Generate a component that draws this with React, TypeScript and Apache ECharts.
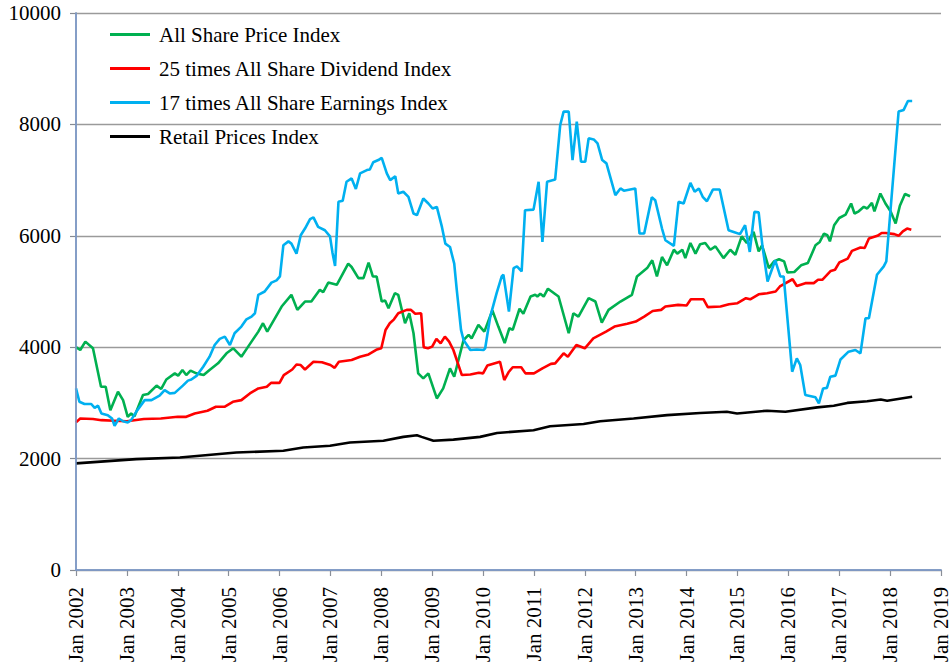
import { useEffect, useRef } from "react";
import * as echarts from "echarts";

const FONT = "Liberation Serif";

// x values: months since Jan 2002
const START_YEAR = 2002;
const X_MIN = 0;
const X_MAX = 204; // Jan 2019
const X_STEP = 12;
const Y_MIN = 0;
const Y_MAX = 10000;
const Y_STEP = 2000;

const SERIES_NAMES = [
  "All Share Price Index",
  "25 times All Share Dividend Index",
  "17 times All Share Earnings Index",
  "Retail Prices Index",
];

const SERIES_COLORS = ["#00b050", "#ff0000", "#00b0f0", "#000000"];

const priceIndex: [number, number][] = [
  [0, 4000], [1, 3950], [2.2, 4100], [4, 3980], [5.9, 3290], [7, 3290], [8.1, 2870], [9.9, 3200],
  [11.1, 3050], [12.2, 2750], [13, 2810], [13.8, 2760], [15.8, 3140], [17, 3160], [19, 3310],
  [20.1, 3250], [21.3, 3420], [23.3, 3530], [24.1, 3490], [25.1, 3590], [26, 3500], [27, 3580],
  [28.4, 3530], [30.1, 3500], [31.5, 3590], [33.5, 3710], [35.5, 3890], [37.1, 3980], [39, 3830],
  [40.6, 4010], [43, 4280], [44.1, 4430], [45.1, 4280], [48.5, 4730], [50.8, 4940], [52.2, 4670],
  [54, 4820], [55.5, 4820], [57.5, 5030], [58.3, 4990], [59.5, 5160], [61.5, 5120], [64.2, 5500],
  [65, 5440], [66.6, 5240], [67.8, 5240], [69, 5520], [70, 5270], [70.9, 5270], [72.1, 4820],
  [72.9, 4840], [73.7, 4700], [75.2, 4970], [76, 4940], [77.6, 4430], [78.6, 4610], [79.6, 4250],
  [80.7, 3530], [81.9, 3440], [83.1, 3530], [85.1, 3080], [86.6, 3260], [88.2, 3620], [89.2, 3470],
  [91.4, 4130], [92.6, 4220], [93.3, 4160], [94.9, 4400], [96.3, 4280], [98.2, 4660], [99.6, 4370],
  [101.1, 4075], [102.2, 4340], [103, 4310], [104.6, 4690], [105.5, 4600], [107.2, 4910],
  [108.3, 4940], [108.8, 4910], [109.5, 4960], [110.3, 4910], [111.3, 5050], [113.8, 4910],
  [116.2, 4250], [117.3, 4610], [118.5, 4550], [120.9, 4880], [122.5, 4820], [124, 4440],
  [125.6, 4670], [128.4, 4820], [131.1, 4940], [132.3, 5270], [134.7, 5420], [135.9, 5560],
  [137, 5270], [138.2, 5620], [139.4, 5470], [141, 5750], [141.8, 5680], [143, 5750], [143.7, 5600],
  [144.9, 5870], [146.1, 5680], [147.2, 5850], [148.4, 5870], [149.6, 5750], [150.8, 5810],
  [152.7, 5600], [154.3, 5750], [155.5, 5660], [157, 5990], [158.2, 5870], [159.8, 6070],
  [161, 5720], [161.8, 5830], [163.4, 5420], [164.6, 5540], [165.8, 5580], [167, 5540],
  [167.8, 5340], [169.4, 5350], [171, 5470], [172.6, 5510], [174.4, 5830], [175.4, 5890],
  [176.4, 6040], [177.2, 6010], [177.8, 5900], [178.8, 6190], [180, 6320], [181.5, 6380],
  [182.8, 6580], [183.6, 6400], [184.6, 6440], [185.8, 6520], [186.6, 6490], [187.7, 6590],
  [188.3, 6440], [189.7, 6760], [190.9, 6580], [192.1, 6440], [193.3, 6220], [194.3, 6540],
  [195.5, 6750], [196.7, 6710],
];

const dividendIndex25: [number, number][] = [
  [0, 2650], [1, 2720], [4, 2710], [6, 2690], [9, 2680], [12, 2670], [16, 2710], [20, 2720],
  [24, 2750], [26, 2750], [28, 2810], [31, 2860], [33, 2930], [35, 2930], [37, 3020], [39, 3050],
  [41, 3170], [43, 3260], [45, 3290], [46, 3360], [48, 3360], [49, 3500], [51, 3600], [52, 3690],
  [53, 3680], [54, 3600], [56, 3740], [58, 3730], [60, 3680], [61, 3630], [62, 3740], [65, 3770],
  [67, 3830], [69, 3870], [71, 3960], [72, 3980], [73, 4310], [74, 4430], [75, 4500], [76, 4610],
  [78, 4670], [79, 4670], [80, 4600], [81.4, 4610], [82, 4000], [83, 3980], [84, 4010], [85, 4150],
  [86, 4070], [87, 4190], [88, 4100], [89, 3950], [91, 3500], [93, 3510], [95, 3540], [96, 3530],
  [97, 3670], [100, 3740], [101, 3410], [102, 3550], [103, 3640], [105, 3640], [106, 3530],
  [108, 3530], [110, 3620], [112, 3700], [113, 3710], [115, 3890], [116, 3830], [118, 4040],
  [120, 3980], [122, 4160], [125, 4280], [127, 4370], [130, 4420], [132, 4460], [134, 4550],
  [136, 4650], [138, 4670], [139, 4730], [142, 4760], [144, 4750], [145, 4860], [148, 4860],
  [149, 4720], [152, 4730], [154, 4770], [156, 4790], [158, 4880], [159, 4860], [161, 4950],
  [163, 4970], [165, 5000], [166, 5090], [169, 5220], [170, 5100], [172, 5150], [174, 5150],
  [175, 5210], [176, 5210], [178, 5370], [179, 5390], [180, 5520], [182, 5590], [183, 5730],
  [185, 5790], [186, 5780], [187, 5950], [189, 6000], [190, 6050], [191, 6050], [193, 6030],
  [194, 6000], [195, 6080], [196, 6130], [197, 6110],
];

const earningsIndex17: [number, number][] = [
  [0, 3260], [0.8, 3020], [2, 2980], [3.6, 2980], [4.4, 2910], [5.2, 2950], [6, 2810], [7.5, 2780],
  [8.5, 2720], [9.1, 2590], [10.1, 2720], [11.1, 2670], [12.2, 2650], [13, 2690], [14.2, 2840],
  [16.2, 3050], [17.8, 3050], [19.7, 3130], [20.9, 3230], [22.1, 3170], [23.3, 3180], [25.2, 3310],
  [26.4, 3400], [27.2, 3420], [28.5, 3490], [30, 3650], [31.5, 3830], [32.7, 4040], [33.9, 4150],
  [35.1, 4190], [36.3, 4040], [37.4, 4250], [39, 4370], [40.2, 4500], [41.4, 4550], [42.2, 4610],
  [43, 4940], [44.5, 5000], [46.1, 5160], [47.3, 5200], [48.1, 5270], [48.9, 5830], [50.1, 5900],
  [50.8, 5860], [52, 5680], [53, 6010], [54, 6130], [55.2, 6300], [56, 6330], [57.1, 6160],
  [58.7, 6100], [59.9, 5990], [60.5, 5690], [61.1, 5460], [61.9, 6610], [62.9, 6630], [63.8, 6970],
  [65, 7030], [66, 6840], [67, 7120], [68.6, 7180], [69.3, 7190], [70.1, 7320], [71.3, 7360],
  [72.1, 7400], [73.3, 7120], [74.1, 7000], [75.3, 7070], [76, 6760], [77.2, 6790], [78.4, 6700],
  [79.6, 6400], [80.4, 6370], [81.9, 6670], [83.1, 6580], [84.1, 6490], [85.1, 6520], [86.3, 6160],
  [87.1, 5860], [88.2, 5800], [89.2, 5500], [89.8, 5030], [90.8, 4310], [91.4, 4130], [93, 3950],
  [94.5, 3960], [96.1, 3950], [96.5, 3980], [97.7, 4550], [99.2, 4970], [100.4, 5270], [100.8, 5300],
  [102.1, 4640], [103.2, 5420], [104, 5450], [105.1, 5360], [105.9, 6460], [107.9, 6470],
  [109.1, 6970], [110, 5890], [111.1, 6970], [113, 7010], [114.2, 7990], [115, 8230], [116.2, 8230],
  [117.1, 7360], [118.1, 8050], [119.1, 7330], [120.1, 7330], [120.9, 7750], [122.1, 7730],
  [123, 7660], [124.1, 7360], [125.1, 7300], [127.2, 6730], [128.4, 6850], [129.2, 6810],
  [131.9, 6850], [132.9, 6040], [134, 6040], [135.8, 6690], [136.6, 6640], [138.2, 6130],
  [139, 5920], [141, 5820], [142.1, 6610], [143.3, 6580], [144.9, 6950], [145.9, 6790],
  [146.9, 6850], [147.8, 6700], [148.8, 6620], [150.2, 6830], [151.8, 6830], [153.9, 6100],
  [155.1, 6070], [156.6, 6030], [157.8, 6190], [158.9, 5710], [160, 6430], [161, 6420],
  [161.9, 5810], [163.1, 5180], [164.9, 5560], [166.1, 5270], [166.9, 5270], [168.9, 3560],
  [170, 3800], [170.8, 3680], [172, 3140], [174.4, 3100], [175.2, 2990], [176.2, 3260],
  [177.1, 3270], [177.9, 3470], [179.1, 3490], [180.3, 3780], [182.2, 3920], [183.8, 3950],
  [185, 3890], [186.2, 4520], [187, 4520], [188.9, 5300], [190.5, 5450], [191.1, 5540],
  [194, 8230], [195.2, 8260], [196.2, 8420], [197.2, 8420],
];

const retailPrices: [number, number][] = [
  [0, 1915], [14.2, 1990], [24.5, 2020], [37.8, 2110], [48.9, 2140], [53.6, 2200], [59.9, 2230],
  [64.6, 2290], [72.5, 2320], [77.2, 2390], [80.4, 2420], [81.5, 2390], [84.3, 2320], [89, 2340],
  [95.3, 2390], [99.3, 2460], [107.9, 2510], [111.8, 2580], [119.7, 2620], [123.6, 2670],
  [131.5, 2720], [139.4, 2780], [147.2, 2820], [153.5, 2840], [155.9, 2810], [163, 2860],
  [167.3, 2840], [174.8, 2920], [178.7, 2950], [181.9, 3000], [186.6, 3030], [189.8, 3060],
  [191.3, 3040], [197.2, 3110],
];

const SERIES_DATA = [priceIndex, dividendIndex25, earningsIndex17, retailPrices];

export default function App() {
  const ref = useRef<HTMLDivElement>(null);

  useEffect(() => {
    if (!ref.current) return;
    const chart = echarts.init(ref.current, undefined, { renderer: "svg" });
    const borderColor = "#7b9bd0";
    chart.setOption({
      animation: false,
      backgroundColor: "#ffffff",
      textStyle: { fontFamily: FONT },
      grid: { left: 76, right: 11, top: 13, bottom: 100, containLabel: false },
      legend: {
        orient: "vertical",
        left: 110,
        top: 24,
        padding: 0,
        itemWidth: 40,
        itemHeight: 3,
        itemGap: 13,
        icon: "rect",
        selectedMode: false,
        textStyle: {
          fontFamily: FONT,
          fontSize: 21,
          color: "#000",
          lineHeight: 21,
          padding: [0, 0, 0, 4],
        },
        data: SERIES_NAMES,
      },
      xAxis: [
        {
          type: "value",
          min: X_MIN,
          max: X_MAX,
          interval: X_STEP,
          position: "bottom",
          axisLine: { show: true, lineStyle: { color: "#8a8f98", width: 1.5 } },
          axisTick: { show: true, length: 6, lineStyle: { color: "#8a8f98", width: 1.2 } },
          splitLine: { show: false },
          axisLabel: {
            rotate: 90,
            margin: 17,
            fontFamily: FONT,
            fontSize: 21,
            color: "#000",
            formatter: (v: number) => `Jan ${START_YEAR + v / 12}`,
          },
        },
        {
          type: "value",
          min: X_MIN,
          max: X_MAX,
          position: "top",
          z: 5,
          axisLine: { show: true, lineStyle: { color: borderColor, width: 1.5 } },
          axisTick: { show: false },
          axisLabel: { show: false },
          splitLine: { show: false },
        },
      ],
      yAxis: [
        {
          type: "value",
          min: Y_MIN,
          max: Y_MAX,
          interval: Y_STEP,
          position: "left",
          axisLine: { show: true, lineStyle: { color: "#868a92", width: 1.5 } },
          axisTick: { show: true, length: 6, lineStyle: { color: "#868a92", width: 1.2 } },
          splitLine: { show: true, lineStyle: { color: "#9a9a9a", width: 1.3 } },
          axisLabel: {
            margin: 15,
            fontFamily: FONT,
            fontSize: 21,
            color: "#000",
            formatter: (v: number) => String(v),
          },
        },
        {
          type: "value",
          min: Y_MIN,
          max: Y_MAX,
          position: "right",
          z: 5,
          axisLine: { show: true, lineStyle: { color: borderColor, width: 1.5 } },
          axisTick: { show: false },
          axisLabel: { show: false },
          splitLine: { show: false },
        },
      ],
      series: SERIES_NAMES.map((name, i) => ({
        name,
        type: "line",
        xAxisIndex: 0,
        yAxisIndex: 0,
        data: SERIES_DATA[i],
        showSymbol: false,
        symbol: "none",
        color: SERIES_COLORS[i],
        lineStyle: { color: SERIES_COLORS[i], width: 2.6 },
        emphasis: { disabled: true },
      })),
    });
    return () => chart.dispose();
  }, []);

  return (
    <div
      ref={ref}
      style={{ position: "fixed", left: 0, top: 0, width: 952, height: 670, background: "#fff" }}
    />
  );
}
